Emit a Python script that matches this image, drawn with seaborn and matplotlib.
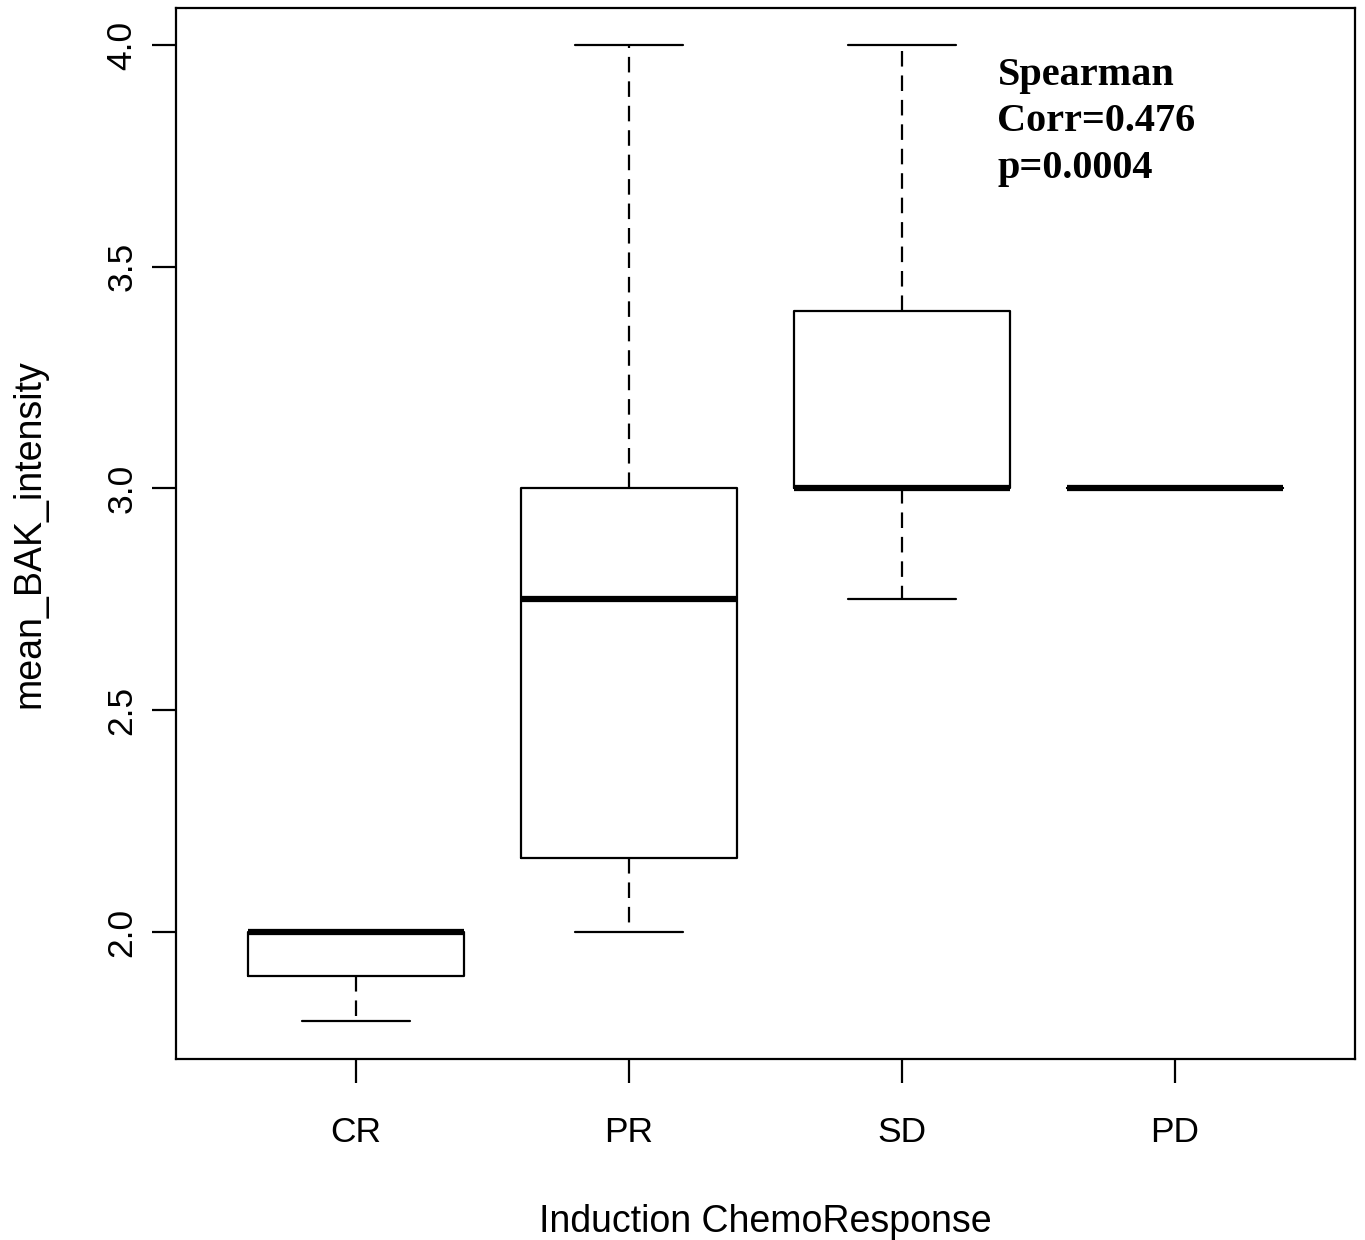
import numpy as np
import pandas as pd
import seaborn as sns
import matplotlib.pyplot as plt

# five-number summaries (min, q1, median, q3, max)
groups = ['CR', 'PR', 'SD', 'PD']
lower_whisker = [1.8, 2.0, 2.75, 3.0]
q1 = [1.9, 2.167, 3.0, 3.0]
median = [2.0, 2.75, 3.0, 3.0]
q3 = [2.0, 3.0, 3.4, 3.0]
upper_whisker = [2.0, 4.0, 4.0, 3.0]
yticks = [2.0, 2.5, 3.0, 3.5, 4.0]
note = 'Spearman\nCorr=0.476\np=0.0004'

# long table: each group gets its five summary values as points
rows = []
for i, g in enumerate(groups):
    for v in [lower_whisker[i], q1[i], median[i], q3[i], upper_whisker[i]]:
        rows.append({'response': g, 'value': v})
df = pd.DataFrame(rows)

sns.set_style('white')
plt.rcParams['font.family'] = ['Liberation Sans', 'DejaVu Sans']
plt.rcParams['text.color'] = 'black'
plt.rcParams['axes.labelcolor'] = 'black'
plt.rcParams['xtick.color'] = 'black'
plt.rcParams['ytick.color'] = 'black'

fig = plt.figure(figsize=(13.65, 12.4), dpi=100)
ax = fig.add_axes([176 / 1365, 181 / 1240, 1179 / 1365, 1051 / 1240])

lw = 1.6
sns.boxplot(data=df, x='response', y='value', order=groups, ax=ax,
            whis=(0, 100), width=0.79, fill=False, color='black',
            linewidth=lw, showfliers=False,
            boxprops=dict(linewidth=lw),
            whiskerprops=dict(linestyle=(0, (7, 4)), linewidth=lw),
            capprops=dict(linewidth=lw),
            medianprops=dict(linewidth=4.5, solid_capstyle='butt'))

ax.set_xlim(-0.66, 3.66)
ax.set_ylim(1.7136, 4.0834)
ax.set_yticks(yticks)
ax.set_yticklabels([f'{t:.1f}' for t in yticks], rotation=90, va='center')
ax.tick_params(axis='both', direction='out', length=17, width=1.6,
               labelsize=25.5, pad=10, left=True, bottom=True)
ax.tick_params(axis='x', pad=24)

for s in ax.spines.values():
    s.set_linewidth(1.6)
    s.set_color('black')

ax.set_xlabel('Induction ChemoResponse', fontsize=27, labelpad=40)
ax.set_ylabel('mean_BAK_intensity', fontsize=27, labelpad=42)

ax.text(2.35, 3.974, note, fontsize=29, fontweight='bold', va='top', ha='left',
        family='Liberation Serif', linespacing=1.35)

fig.savefig('out.png', dpi=100)
